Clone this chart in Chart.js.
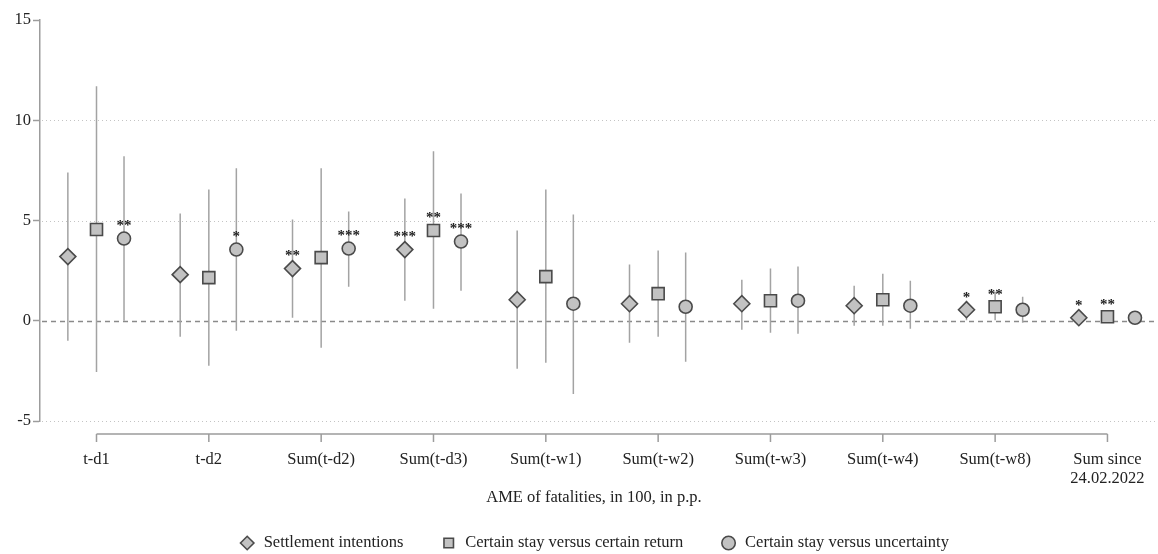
<!DOCTYPE html>
<html>
<head>
<meta charset="utf-8">
<script src="https://cdn.jsdelivr.net/npm/chart.js@4.4.1/dist/chart.umd.min.js"></script>
<style>
  html, body { margin: 0; padding: 0; background: #fff; }
  #wrap { width: 1158px; height: 554px; }
</style>
</head>
<body>
<div id="wrap"><canvas id="ameChart" width="1158" height="554"></canvas></div>
<script>
// categories on the x axis
const categories = ["t-d1", "t-d2", "Sum(t-d2)", "Sum(t-d3)", "Sum(t-w1)", "Sum(t-w2)",
  "Sum(t-w3)", "Sum(t-w4)", "Sum(t-w8)", ["Sum since", "24.02.2022"]];

const seriesNames = ["Settlement intentions", "Certain stay versus certain return",
  "Certain stay versus uncertainty"];

// settlement intentions (diamonds)
const settleEst = [3.2, 2.3, 2.6, 3.55, 1.05, 0.85, 0.85, 0.75, 0.55, 0.15];
const settleLo = [-1.0, -0.8, 0.15, 1.0, -2.4, -1.1, -0.45, -0.25, 0.02, 0.02];
const settleHi = [7.4, 5.35, 5.05, 6.1, 4.5, 2.8, 2.05, 1.75, 1.0, 0.3];
const settleStars = ["", "", "**", "***", "", "", "", "", "*", "*"];

// certain stay versus certain return (squares)
const returnEst = [4.55, 2.15, 3.15, 4.5, 2.2, 1.35, 1.0, 1.05, 0.7, 0.2];
const returnLo = [-2.55, -2.25, -1.35, 0.6, -2.1, -0.8, -0.6, -0.25, 0.02, 0.05];
const returnHi = [11.7, 6.55, 7.6, 8.45, 6.55, 3.5, 2.6, 2.35, 1.45, 0.35];
const returnStars = ["", "", "", "**", "", "", "", "", "**", "**"];

// certain stay versus uncertainty (circles)
const uncertEst = [4.1, 3.55, 3.6, 3.95, 0.85, 0.7, 1.0, 0.75, 0.55, 0.15];
const uncertLo = [0.0, -0.5, 1.7, 1.5, -3.65, -2.05, -0.65, -0.4, -0.1, 0.0];
const uncertHi = [8.2, 7.6, 5.45, 6.35, 5.3, 3.4, 2.7, 2.0, 1.2, 0.3];
const uncertStars = ["**", "*", "***", "***", "", "", "", "", "", ""];

const yTickValues = [-5, 0, 5, 10, 15];

const serif = '"Liberation Serif", "Times New Roman", serif';
const markerFill = "#c2c2c2";
const markerEdge = "#4a4a4a";
const barColor = "#a3a3a3";

const series = [
  { name: seriesNames[0], est: settleEst, lo: settleLo, hi: settleHi, stars: settleStars, off: -0.255, style: "rectRot", r: 8 },
  { name: seriesNames[1], est: returnEst, lo: returnLo, hi: returnHi, stars: returnStars, off: 0, style: "rect", r: 8.5 },
  { name: seriesNames[2], est: uncertEst, lo: uncertLo, hi: uncertHi, stars: uncertStars, off: 0.245, style: "circle", r: 6.5 },
];

const markerSets = series.map((s) => ({
  label: s.name,
  data: s.est.map((v, i) => ({ x: i + s.off, y: v })),
  pointStyle: s.style,
  pointRadius: s.r,
  pointHoverRadius: s.r,
  backgroundColor: markerFill,
  borderColor: markerEdge,
  borderWidth: 1.6,
  stars: s.stars,
}));

const barSets = series.map((s) => ({
  label: s.name + " CI",
  data: s.lo.flatMap((lo, i) => [
    { x: i + s.off, y: lo },
    { x: i + s.off, y: s.hi[i] },
    { x: i + s.off, y: null },
  ]),
  showLine: true,
  spanGaps: false,
  pointRadius: 0,
  borderColor: barColor,
  borderWidth: 1.5,
}));

// dotted grid, dashed zero line and the detached x axis line
const stataAxes = {
  id: "stataAxes",
  beforeDatasetsDraw(chart) {
    const { ctx, chartArea, scales } = chart;
    const x = scales.x;
    const y = scales.y;
    ctx.save();
    for (const v of yTickValues) {
      if (v === y.max) continue;
      const py = Math.round(y.getPixelForValue(v)) + 0.5;
      ctx.beginPath();
      if (v === 0) {
        ctx.setLineDash([5, 4]);
        ctx.strokeStyle = "#8a8a8a";
        ctx.lineWidth = 1.5;
      } else {
        ctx.setLineDash([1, 3]);
        ctx.strokeStyle = "#c4c4c4";
        ctx.lineWidth = 1;
      }
      ctx.moveTo(chartArea.left + 2, py);
      ctx.lineTo(chart.width, py);
      ctx.stroke();
    }
    ctx.setLineDash([]);
    ctx.strokeStyle = "#9c9c9c";
    ctx.lineWidth = 1.5;
    const ay = chartArea.bottom + 13;
    const x0 = x.getPixelForValue(0);
    const x1 = x.getPixelForValue(categories.length - 1);
    ctx.beginPath();
    ctx.moveTo(x0, ay);
    ctx.lineTo(x1, ay);
    categories.forEach((c, i) => {
      const px = x.getPixelForValue(i);
      ctx.moveTo(px, ay);
      ctx.lineTo(px, ay + 8);
    });
    ctx.stroke();
    ctx.restore();
  },
  afterDatasetsDraw(chart) {
    const { ctx, scales } = chart;
    ctx.save();
    ctx.font = "bold 15px " + serif;
    ctx.fillStyle = "#222";
    ctx.textAlign = "center";
    ctx.textBaseline = "middle";
    chart.data.datasets.forEach((ds) => {
      if (!ds.stars) return;
      ds.stars.forEach((st, i) => {
        if (!st) return;
        const pt = ds.data[i];
        const px = scales.x.getPixelForValue(pt.x);
        const py = scales.y.getPixelForValue(pt.y);
        ctx.fillText(st, px, py - 12);
      });
    });
    ctx.restore();
  },
};

Chart.defaults.font.family = serif;
Chart.defaults.font.size = 16.5;
Chart.defaults.color = "#222";

new Chart(document.getElementById("ameChart").getContext("2d"), {
  type: "scatter",
  data: { datasets: [...markerSets, ...barSets] },
  options: {
    responsive: false,
    animation: false,
    devicePixelRatio: 1,
    layout: { padding: { top: 20, right: 0, bottom: 0, left: 0 } },
    scales: {
      x: {
        type: "linear",
        bounds: "data",
        min: -0.503,
        max: 9.36,
        afterBuildTicks: (scale) => {
          scale.ticks = categories.map((c, i) => ({ value: i }));
        },
        afterFit: (scale) => {
          scale.height = 76.75;
          scale.paddingLeft = 0;
          scale.paddingRight = 0;
        },
        ticks: {
          autoSkip: false,
          maxRotation: 0,
          padding: 0,
          font: { size: 16.5, lineHeight: 1.15 },
          callback: (v) => categories[v],
        },
        grid: {
          display: true,
          drawOnChartArea: false,
          drawTicks: true,
          tickLength: 29.5,
          tickColor: "rgba(0,0,0,0)",
        },
        border: { display: false },
        title: {
          display: true,
          text: "AME of fatalities, in 100, in p.p.",
          font: { size: 16.5, lineHeight: 1.2 },
          padding: { top: 0, bottom: -10 },
        },
      },
      y: {
        min: -5,
        max: 15,
        afterBuildTicks: (scale) => {
          scale.ticks = yTickValues.map((v) => ({ value: v }));
        },
        afterFit: (scale) => {
          scale.width = 40;
        },
        ticks: {
          padding: 2,
          font: { size: 16.5 },
          callback: (v) => String(v),
        },
        grid: {
          drawOnChartArea: false,
          drawTicks: true,
          tickLength: 7,
          tickColor: "#9c9c9c",
          tickWidth: 1.5,
        },
        border: { display: true, color: "#9c9c9c", width: 1.5 },
      },
    },
    plugins: {
      tooltip: { enabled: false },
      legend: {
        position: "bottom",
        fullSize: false,
        maxHeight: 56.25,
        labels: {
          usePointStyle: true,
          boxWidth: 16.5,
          boxHeight: 9.5,
          padding: 37,
          color: "#222",
          font: { size: 16.5 },
          filter: (item) => item.datasetIndex < series.length,
        },
      },
    },
  },
  plugins: [stataAxes],
});
</script>
</body>
</html>
